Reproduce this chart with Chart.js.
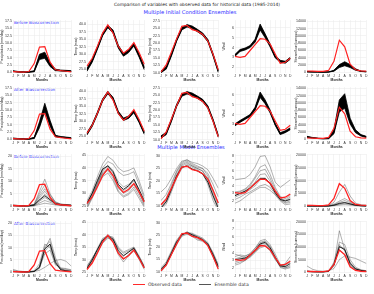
<!DOCTYPE html>
<html lang="en">
<head>
  <meta charset="UTF-8" />
  <title>Comparison of variables with observed data</title>
  <script src="https://cdn.jsdelivr.net/npm/chart.js"></script>
  <style>
    body { margin: 0; background: #fff; font-family: "DejaVu Sans", sans-serif; }
    #wrap { position: relative; width: 374px; height: 294px; overflow: hidden; }
    .txt { position: absolute; white-space: nowrap; line-height: 1; }
    canvas { position: absolute; }
  </style>
</head>
<body>
  <div id="wrap">
    <div class="txt" id="mainTitle" style="left:0;width:394px;text-align:center;top:3px;font-size:4.4px;color:#222;">Comparison of variables with observed data for historical data (1985-2014)</div>
    <div class="txt" style="left:0;width:380px;text-align:center;top:10px;font-size:5.2px;color:#2b2bff;">Multiple Initial Condition Ensembles</div>
    <div class="txt" style="left:0;width:382px;text-align:center;top:145px;font-size:5.2px;color:#2b2bff;">Multiple Model Ensembles</div>
    <div class="txt" style="left:14px;top:21px;font-size:4.2px;color:#2b2bff;">Before Biascorrection</div>
    <div class="txt" style="left:14px;top:88px;font-size:4.2px;color:#2b2bff;">After Biascorrection</div>
    <div class="txt" style="left:14px;top:155px;font-size:4.2px;color:#2b2bff;">Before Biascorrection</div>
    <div class="txt" style="left:14px;top:222px;font-size:4.2px;color:#2b2bff;">After Biascorrection</div>
    <div id="legend" class="txt" style="left:133px;top:283px;font-size:4.6px;color:#333;">
      <span style="display:inline-block;width:12px;height:1.2px;background:#ff2a2a;vertical-align:middle;margin-right:3px;"></span>Observed data
      <span style="display:inline-block;width:12px;height:1px;background:#555;vertical-align:middle;margin:0 3px 0 16px;"></span>Ensemble data
    </div>
  </div>

  <script>
    const months = ['J', 'F', 'M', 'A', 'M', 'J', 'J', 'A', 'S', 'O', 'N', 'D'];

    // observed data (same in every row)
    const obsPrecip = [0.3, 0.2, 0.1, 0.3, 3.0, 8.6, 8.8, 3.5, 0.9, 0.6, 0.4, 0.2];
    const obsTmax = [26.0, 28.6, 32.6, 37.0, 39.7, 37.0, 32.6, 30.3, 31.6, 33.8, 30.5, 26.6];
    const obsTmin = [10.3, 12.6, 17.0, 21.4, 25.6, 25.9, 24.5, 24.0, 22.9, 20.7, 16.2, 11.0];
    const obsWind = [3.1, 3.0, 3.1, 3.7, 4.3, 4.9, 4.85, 4.35, 3.35, 2.4, 2.5, 2.9];
    const obsFlow = [350, 300, 250, 250, 500, 3000, 8800, 7000, 2200, 700, 400, 300];

    // initial condition ensembles, before bias correction (low / mid / high of the bundle)
    const icBeforePrecipLo = [0.3, 0.1, 0.1, 0.1, 0.2, 4.4, 4.8, 2.0, 0.6, 0.5, 0.4, 0.3];
    const icBeforePrecipMid = [0.4, 0.2, 0.1, 0.1, 0.4, 5.3, 5.8, 2.6, 0.8, 0.6, 0.5, 0.4];
    const icBeforePrecipHi = [0.6, 0.3, 0.2, 0.2, 0.6, 6.2, 6.9, 3.3, 1.1, 0.8, 0.7, 0.6];
    const icBeforeTmaxLo = [24.3, 27.3, 31.6, 36.1, 38.8, 37.0, 32.0, 29.3, 30.5, 32.7, 29.0, 24.8];
    const icBeforeTmaxMid = [24.8, 27.8, 32.0, 36.5, 39.2, 37.5, 32.5, 29.8, 31.0, 33.2, 29.5, 25.3];
    const icBeforeTmaxHi = [25.3, 28.3, 32.4, 36.9, 39.6, 38.0, 33.0, 30.3, 31.5, 33.7, 30.0, 25.8];
    const icBeforeTminLo = [10.0, 11.2, 15.6, 20.6, 24.4, 25.4, 24.9, 23.8, 22.6, 20.4, 15.6, 10.1];
    const icBeforeTminMid = [10.3, 11.6, 16.0, 21.0, 24.8, 25.8, 25.3, 24.2, 23.0, 20.8, 16.0, 10.5];
    const icBeforeTminHi = [10.6, 12.0, 16.4, 21.4, 25.2, 26.2, 25.7, 24.6, 23.4, 21.2, 16.4, 10.9];
    const icBeforeWindLo = [3.1, 3.6, 3.75, 4.0, 4.55, 5.8, 5.0, 4.05, 2.95, 2.5, 2.4, 2.8];
    const icBeforeWindMid = [3.2, 3.7, 3.85, 4.1, 4.7, 6.1, 5.2, 4.2, 3.05, 2.6, 2.5, 2.9];
    const icBeforeWindHi = [3.3, 3.8, 3.95, 4.2, 4.85, 6.4, 5.4, 4.35, 3.15, 2.7, 2.6, 3.0];
    const icBeforeFlowLo = [100, 80, 60, 50, 60, 300, 1300, 1800, 1300, 550, 220, 120];
    const icBeforeFlowMid = [150, 100, 80, 60, 80, 400, 1700, 2300, 1700, 750, 280, 150];
    const icBeforeFlowHi = [200, 130, 100, 80, 100, 550, 2100, 2900, 2100, 950, 350, 200];

    // initial condition ensembles, after bias correction
    const icAfterPrecipLo = [0.2, 0.1, 0.1, 0.1, 0.3, 4.0, 9.5, 4.5, 0.9, 0.7, 0.5, 0.3];
    const icAfterPrecipMid = [0.3, 0.2, 0.1, 0.1, 0.5, 5.0, 10.8, 5.5, 1.1, 0.8, 0.6, 0.4];
    const icAfterPrecipHi = [0.5, 0.3, 0.2, 0.2, 0.7, 6.0, 12.3, 6.5, 1.4, 1.0, 0.8, 0.6];
    const icAfterTmaxLo = [25.4, 28.2, 32.2, 36.6, 39.1, 37.1, 32.5, 30.2, 30.9, 32.8, 29.5, 25.6];
    const icAfterTmaxMid = [25.8, 28.6, 32.6, 37.0, 39.5, 37.5, 32.9, 30.6, 31.3, 33.2, 29.9, 26.0];
    const icAfterTmaxHi = [26.2, 29.0, 33.0, 37.4, 39.9, 37.9, 33.3, 31.0, 31.7, 33.6, 30.3, 26.4];
    const icAfterTminLo = [10.5, 11.7, 16.1, 21.1, 24.6, 25.4, 24.9, 23.9, 22.8, 20.6, 16.1, 10.8];
    const icAfterTminMid = [10.9, 12.1, 16.5, 21.5, 25.0, 25.8, 25.3, 24.3, 23.2, 21.0, 16.5, 11.2];
    const icAfterTminHi = [11.3, 12.5, 16.9, 21.9, 25.4, 26.2, 25.7, 24.7, 23.6, 21.4, 16.9, 11.6];
    const icAfterWindLo = [2.85, 3.2, 3.5, 3.8, 4.45, 5.75, 5.1, 4.15, 2.9, 1.95, 2.15, 2.45];
    const icAfterWindMid = [2.95, 3.3, 3.6, 3.9, 4.6, 6.0, 5.3, 4.3, 3.0, 2.05, 2.25, 2.55];
    const icAfterWindHi = [3.05, 3.4, 3.7, 4.0, 4.75, 6.3, 5.5, 4.45, 3.1, 2.15, 2.35, 2.65];
    const icAfterFlowLo = [500, 350, 200, 150, 150, 1500, 7500, 8500, 4200, 1800, 900, 500];
    const icAfterFlowMid = [650, 420, 260, 180, 220, 2000, 9000, 10000, 4900, 2200, 1100, 650];
    const icAfterFlowHi = [800, 500, 300, 200, 280, 2600, 10800, 12500, 5800, 2600, 1300, 800];

    // multiple model ensembles, before bias correction
    const mmeBeforePrecipMean = [0.3, 0.2, 0.1, 0.2, 0.5, 2.5, 4.2, 2.6, 1.0, 0.6, 0.5, 0.3];
    const mmeBeforePrecip = [
      [0.4, 0.3, 0.2, 0.3, 0.8, 6.0, 10.8, 5.0, 1.5, 0.8, 0.6, 0.5],
      [0.5, 0.3, 0.2, 0.2, 0.7, 5.0, 8.5, 4.5, 1.8, 0.9, 0.7, 0.6],
      [0.3, 0.2, 0.2, 0.2, 0.6, 4.2, 7.0, 3.8, 1.4, 0.7, 0.6, 0.4],
      [0.4, 0.2, 0.1, 0.2, 0.5, 3.5, 6.0, 3.2, 1.2, 0.8, 0.5, 0.4],
      [0.3, 0.2, 0.1, 0.1, 0.4, 2.8, 4.8, 2.7, 1.0, 0.6, 0.5, 0.3],
      [0.2, 0.1, 0.1, 0.1, 0.3, 2.0, 3.5, 2.2, 0.9, 0.5, 0.4, 0.2],
      [0.2, 0.1, 0.1, 0.1, 0.2, 1.3, 2.3, 1.6, 0.7, 0.4, 0.3, 0.2],
      [0.1, 0.1, 0.1, 0.1, 0.2, 0.7, 1.2, 0.9, 0.5, 0.3, 0.2, 0.1]
    ];
    const mmeBeforeTmaxMean = [26.0, 30.0, 35.0, 39.5, 40.8, 38.5, 33.5, 31.5, 33.0, 35.5, 31.5, 27.0];
    const mmeBeforeTmax = [
      [27.0, 31.0, 36.5, 41.5, 44.5, 43.0, 40.0, 38.5, 39.0, 40.0, 35.0, 29.0],
      [26.0, 30.0, 35.0, 40.0, 42.5, 41.5, 38.5, 37.0, 37.5, 38.5, 33.5, 28.0],
      [25.0, 29.0, 34.0, 39.0, 41.0, 39.0, 34.5, 32.5, 33.5, 35.5, 31.0, 26.0],
      [24.5, 28.5, 33.5, 38.5, 40.5, 38.0, 33.0, 31.0, 32.5, 35.0, 30.5, 25.5],
      [26.5, 30.0, 34.5, 38.0, 39.5, 37.0, 32.0, 30.0, 31.0, 33.5, 30.0, 26.5],
      [25.5, 29.5, 33.5, 37.5, 39.0, 36.0, 31.0, 29.0, 30.0, 32.5, 29.0, 25.0],
      [24.0, 28.0, 32.5, 36.5, 38.0, 35.0, 30.5, 28.5, 29.5, 31.5, 28.0, 24.5]
    ];
    const mmeBeforeTminMean = [9.0, 11.5, 16.5, 22.0, 25.5, 26.0, 24.8, 24.0, 22.8, 19.5, 14.0, 9.0];
    const mmeBeforeTmin = [
      [15.5, 17.5, 21.0, 25.0, 28.0, 28.5, 27.5, 27.0, 26.0, 24.5, 21.0, 17.0],
      [12.0, 14.5, 19.0, 24.0, 27.5, 28.5, 27.0, 26.0, 25.0, 23.0, 18.5, 13.5],
      [10.5, 13.0, 18.0, 23.5, 27.0, 28.0, 26.5, 25.5, 25.0, 22.0, 16.0, 11.0],
      [9.0, 11.5, 16.5, 22.0, 26.0, 27.0, 26.0, 25.0, 24.0, 20.0, 13.5, 8.5],
      [8.5, 10.5, 15.5, 21.0, 25.0, 26.5, 25.5, 24.5, 23.0, 18.5, 12.0, 8.0],
      [9.5, 12.0, 17.0, 22.5, 26.5, 27.5, 26.0, 25.0, 24.0, 21.0, 15.0, 10.0]
    ];
    const mmeBeforeWindMean = [2.7, 3.0, 3.3, 3.7, 4.3, 5.0, 5.0, 4.3, 3.1, 2.2, 2.0, 2.2];
    const mmeBeforeWind = [
      [4.8, 4.9, 5.0, 5.5, 6.5, 7.9, 8.0, 6.5, 4.5, 3.8, 4.3, 4.8],
      [3.2, 3.3, 3.6, 4.2, 5.2, 6.5, 6.8, 5.5, 3.8, 2.6, 2.3, 2.7],
      [3.0, 3.2, 3.5, 4.0, 5.0, 6.0, 6.2, 5.0, 3.5, 2.4, 2.1, 2.5],
      [2.8, 3.0, 3.3, 3.8, 4.5, 5.5, 5.6, 4.6, 3.2, 2.3, 2.0, 2.3],
      [2.5, 2.8, 3.1, 3.5, 4.0, 4.8, 5.0, 4.2, 3.0, 2.2, 1.8, 2.0],
      [2.2, 2.5, 2.9, 3.2, 3.6, 4.0, 4.2, 3.8, 2.9, 2.1, 1.7, 1.8],
      [1.7, 2.0, 2.5, 3.0, 3.4, 3.8, 3.8, 3.4, 2.8, 2.0, 1.5, 1.6]
    ];
    const mmeBeforeFlowMean = [100, 80, 60, 60, 100, 400, 1100, 1400, 900, 400, 200, 100];
    const mmeBeforeFlow = [
      [400, 300, 200, 200, 300, 1500, 5500, 8500, 4000, 1200, 600, 400],
      [200, 150, 100, 100, 200, 800, 2000, 3000, 1800, 700, 300, 200],
      [150, 100, 80, 80, 150, 600, 1500, 2200, 1400, 500, 250, 150],
      [100, 80, 60, 60, 100, 400, 1000, 1500, 1000, 400, 200, 100],
      [80, 60, 50, 50, 80, 300, 700, 1000, 700, 300, 150, 80],
      [50, 40, 30, 30, 50, 200, 400, 600, 400, 200, 100, 50]
    ];

    // multiple model ensembles, after bias correction
    const mmeAfterPrecipMean = [0.3, 0.2, 0.1, 0.1, 0.3, 2.0, 9.5, 11.5, 4.0, 1.0, 0.6, 0.3];
    const mmeAfterPrecip = [
      [1.2, 0.5, 0.3, 0.3, 0.5, 2.0, 9.5, 13.8, 6.0, 1.5, 0.8, 0.5],
      [0.5, 0.3, 0.2, 0.2, 0.4, 2.5, 10.5, 12.5, 5.0, 1.2, 0.6, 0.4],
      [0.3, 0.2, 0.2, 0.2, 0.3, 1.5, 8.5, 11.0, 4.5, 1.0, 0.5, 0.3],
      [0.2, 0.2, 0.2, 0.2, 0.3, 0.8, 2.0, 3.5, 4.8, 5.2, 4.5, 2.5],
      [0.4, 0.3, 0.2, 0.2, 0.5, 3.5, 11.5, 10.0, 3.5, 1.5, 1.2, 0.8],
      [0.6, 0.4, 0.3, 0.2, 0.4, 2.0, 7.5, 9.0, 3.0, 1.8, 1.5, 1.0]
    ];
    const mmeAfterTmaxMean = [26.5, 29.8, 34.0, 37.8, 39.4, 38.2, 33.5, 31.5, 33.0, 34.5, 30.8, 26.8];
    const mmeAfterTmax = [
      [26.5, 30.0, 34.5, 38.5, 39.5, 39.0, 35.0, 33.0, 34.0, 35.0, 31.0, 27.0],
      [27.0, 30.5, 34.0, 38.0, 40.0, 38.5, 34.0, 31.5, 33.0, 35.0, 31.5, 27.5],
      [26.0, 29.0, 33.0, 37.0, 39.2, 37.5, 32.5, 30.0, 32.0, 34.0, 30.5, 26.5],
      [26.5, 29.5, 33.0, 36.5, 38.5, 38.0, 34.5, 32.5, 33.5, 34.5, 31.0, 27.0],
      [27.5, 30.5, 34.0, 37.5, 39.0, 37.0, 32.0, 29.0, 31.5, 33.5, 30.0, 26.0]
    ];
    const mmeAfterTminMean = [10.8, 13.2, 17.6, 22.2, 25.2, 26.0, 25.2, 24.2, 23.2, 21.3, 16.9, 12.0];
    const mmeAfterTmin = [
      [11.0, 13.5, 18.0, 22.5, 25.5, 26.0, 25.5, 24.5, 23.5, 21.5, 17.0, 12.0],
      [10.5, 13.0, 17.5, 22.0, 25.0, 26.2, 25.8, 24.8, 23.8, 22.0, 17.5, 12.5],
      [11.5, 14.0, 18.5, 23.0, 25.8, 25.5, 24.5, 23.0, 22.5, 21.0, 16.5, 11.5],
      [10.0, 12.5, 17.0, 21.5, 24.5, 25.5, 25.0, 24.0, 23.0, 20.5, 16.0, 11.0],
      [11.0, 13.0, 17.0, 21.0, 24.8, 26.5, 25.0, 23.5, 22.8, 21.5, 17.8, 13.0]
    ];
    const mmeAfterWindMean = [3.1, 3.2, 3.3, 3.7, 4.3, 5.1, 5.3, 4.6, 3.4, 2.3, 2.2, 2.6];
    const mmeAfterWind = [
      [3.5, 3.7, 3.6, 3.8, 4.5, 5.5, 5.7, 5.0, 3.8, 2.5, 2.3, 2.8],
      [3.2, 3.4, 3.5, 3.9, 4.6, 5.3, 5.5, 4.8, 3.5, 2.3, 2.6, 3.5],
      [2.8, 3.0, 3.2, 3.6, 4.2, 5.0, 5.2, 4.5, 3.2, 2.2, 2.0, 2.4],
      [2.6, 2.8, 3.0, 3.4, 4.0, 4.8, 5.0, 4.4, 3.3, 2.4, 2.1, 2.2],
      [3.8, 3.6, 3.3, 3.5, 4.1, 4.6, 4.8, 4.2, 3.1, 2.3, 2.4, 3.0],
      [2.4, 2.6, 3.0, 3.5, 4.3, 5.2, 5.4, 4.6, 3.4, 2.1, 1.9, 2.1]
    ];
    const mmeAfterFlowMean = [400, 250, 200, 200, 400, 3000, 10200, 9000, 3500, 1300, 700, 400];
    const mmeAfterFlow = [
      [300, 200, 150, 150, 300, 3000, 16500, 9000, 4000, 1500, 800, 500],
      [500, 300, 200, 200, 400, 3500, 12000, 11000, 5000, 2000, 1000, 600],
      [200, 150, 100, 100, 300, 2500, 11000, 8500, 3500, 1500, 700, 400],
      [2500, 1200, 600, 400, 500, 1500, 5000, 6500, 6000, 5500, 4500, 3500],
      [300, 200, 150, 150, 300, 2800, 10000, 9500, 3000, 1200, 600, 300],
      [400, 250, 200, 200, 400, 4000, 9000, 7000, 2500, 1000, 500, 300]
    ];

    // y axis tick labels
    const ticksPrecipIC = [0, 2.5, 5, 7.5, 10, 12.5, 15, 17.5];
    const ticksTmaxIC = [25, 27.5, 30, 32.5, 35, 37.5, 40];
    const ticksTminIC = [10, 12.5, 15, 17.5, 20, 22.5, 25, 27.5];
    const ticksWindIC = [2, 3, 4, 5, 6];
    const ticksFlowIC = [0, 2000, 4000, 6000, 8000, 10000, 12000, 14000];
    const ticksPrecipMME = [0, 5, 10, 15, 20];
    const ticksTmaxMME = [25, 30, 35, 40, 45];
    const ticksTminMME = [10, 15, 20, 25, 30];
    const ticksWindMME = [2, 3, 4, 5, 6, 7, 8];
    const ticksFlowMME = [0, 2500, 5000, 7500, 10000, 12500, 15000, 17500, 20000];

    const yTitles = ['Precipitation (mm/day)', 'Temp (max)', 'Temp (min)', 'Wind', 'Streamflow (cumecs)'];

    // plot area of every panel in page pixels
    const colX = [[13, 72], [87, 145], [161, 219], [235, 291], [307, 367]];
    const rowY = [[19, 73], [86, 140], [153, 207], [220, 273]];
    const YW = 13, XH = 9, PAD = 2;

    const RED = '#ff2222';
    const wrap = document.getElementById('wrap');

    function bandSets(lo, mid, hi, obs) {
      return [
        { data: obs, borderColor: RED, borderWidth: 1.2 },
        { data: lo, borderColor: '#000', borderWidth: 0.8 },
        { data: mid, borderColor: '#000', borderWidth: 1.2 },
        { data: hi, borderColor: '#000', borderWidth: 0.8, fill: 1, backgroundColor: '#000' }
      ];
    }

    function mmeSets(lines, mean, obs) {
      const sets = [
        { data: obs, borderColor: RED, borderWidth: 1.3 },
        { data: mean, borderColor: '#111', borderWidth: 0.9 }
      ];
      lines.forEach(l => sets.push({ data: l, borderColor: 'rgba(70,70,70,0.7)', borderWidth: 0.6 }));
      return sets;
    }

    function panel(row, col, datasets, yMin, yMax, ticks, decimals) {
      const [x0, x1] = colX[col];
      const [y0, y1] = rowY[row];
      const canvas = document.createElement('canvas');
      const w = x1 - x0 + YW + PAD;
      const h = y1 - y0 + PAD + XH;
      canvas.width = w;
      canvas.height = h;
      canvas.style.left = (x0 - YW) + 'px';
      canvas.style.top = (y0 - PAD) + 'px';
      canvas.style.width = w + 'px';
      canvas.style.height = h + 'px';
      wrap.appendChild(canvas);

      new Chart(canvas.getContext('2d'), {
        type: 'line',
        data: { labels: months, datasets },
        options: {
          responsive: false,
          animation: false,
          devicePixelRatio: 1,
          layout: { padding: { top: PAD, right: PAD, left: 0, bottom: 0 } },
          plugins: { legend: { display: false }, tooltip: { enabled: false } },
          elements: { point: { radius: 0 }, line: { tension: 0, fill: false } },
          scales: {
            x: {
              grid: { color: '#e8e8e8', lineWidth: 0.5, drawTicks: false },
              border: { display: false },
              ticks: { font: { size: 3.4 }, color: '#333', padding: 1.5, autoSkip: false, maxRotation: 0 },
              title: { display: true, text: 'Months', font: { size: 3.4, weight: 'bold' }, color: '#222', padding: 0 },
              afterFit(s) { s.height = XH; }
            },
            y: {
              min: yMin,
              max: yMax,
              grid: { color: '#e8e8e8', lineWidth: 0.5, drawTicks: false },
              border: { display: false },
              ticks: {
                font: { size: 3.6 }, color: '#333', padding: 1,
                callback: v => v.toFixed(decimals)
              },
              afterBuildTicks(s) { s.ticks = ticks.map(v => ({ value: v })); },
              title: { display: true, text: yTitles[col], font: { size: 3.4 }, color: '#222', padding: 0.5 },
              afterFit(s) { s.width = YW; }
            }
          }
        }
      });
    }

    // row 1: initial condition ensembles, before bias correction
    panel(0, 0, bandSets(icBeforePrecipLo, icBeforePrecipMid, icBeforePrecipHi, obsPrecip), -0.2, 17.8, ticksPrecipIC, 1);
    panel(0, 1, bandSets(icBeforeTmaxLo, icBeforeTmaxMid, icBeforeTmaxHi, obsTmax), 23.7, 41.3, ticksTmaxIC, 1);
    panel(0, 2, bandSets(icBeforeTminLo, icBeforeTminMid, icBeforeTminHi, obsTmin), 9.9, 27.7, ticksTminIC, 1);
    panel(0, 3, bandSets(icBeforeWindLo, icBeforeWindMid, icBeforeWindHi, obsWind), 1.4, 6.8, ticksWindIC, 0);
    panel(0, 4, bandSets(icBeforeFlowLo, icBeforeFlowMid, icBeforeFlowHi, obsFlow), -200, 14300, ticksFlowIC, 0);

    // row 2: initial condition ensembles, after bias correction
    panel(1, 0, bandSets(icAfterPrecipLo, icAfterPrecipMid, icAfterPrecipHi, obsPrecip), -0.2, 17.8, ticksPrecipIC, 1);
    panel(1, 1, bandSets(icAfterTmaxLo, icAfterTmaxMid, icAfterTmaxHi, obsTmax), 23.7, 41.3, ticksTmaxIC, 1);
    panel(1, 2, bandSets(icAfterTminLo, icAfterTminMid, icAfterTminHi, obsTmin), 9.9, 27.7, ticksTminIC, 1);
    panel(1, 3, bandSets(icAfterWindLo, icAfterWindMid, icAfterWindHi, obsWind), 1.4, 6.8, ticksWindIC, 0);
    panel(1, 4, bandSets(icAfterFlowLo, icAfterFlowMid, icAfterFlowHi, obsFlow), -200, 14300, ticksFlowIC, 0);

    // row 3: multiple model ensembles, before bias correction
    panel(2, 0, mmeSets(mmeBeforePrecip, mmeBeforePrecipMean, obsPrecip), -0.3, 20.8, ticksPrecipMME, 0);
    panel(2, 1, mmeSets(mmeBeforeTmax, mmeBeforeTmaxMean, obsTmax), 24.6, 45.4, ticksTmaxMME, 0);
    panel(2, 2, mmeSets(mmeBeforeTmin, mmeBeforeTminMean, obsTmin), 9.4, 30.8, ticksTminMME, 0);
    panel(2, 3, mmeSets(mmeBeforeWind, mmeBeforeWindMean, obsWind), 1.2, 8.2, ticksWindMME, 0);
    panel(2, 4, mmeSets(mmeBeforeFlow, mmeBeforeFlowMean, obsFlow), -300, 20300, ticksFlowMME, 0);

    // row 4: multiple model ensembles, after bias correction
    panel(3, 0, mmeSets(mmeAfterPrecip, mmeAfterPrecipMean, obsPrecip), -0.3, 20.8, ticksPrecipMME, 0);
    panel(3, 1, mmeSets(mmeAfterTmax, mmeAfterTmaxMean, obsTmax), 24.6, 45.4, ticksTmaxMME, 0);
    panel(3, 2, mmeSets(mmeAfterTmin, mmeAfterTminMean, obsTmin), 9.4, 30.8, ticksTminMME, 0);
    panel(3, 3, mmeSets(mmeAfterWind, mmeAfterWindMean, obsWind), 1.4, 8.0, ticksWindMME, 0);
    panel(3, 4, mmeSets(mmeAfterFlow, mmeAfterFlowMean, obsFlow), -300, 20300, ticksFlowMME, 0);
  </script>
</body>
</html>
